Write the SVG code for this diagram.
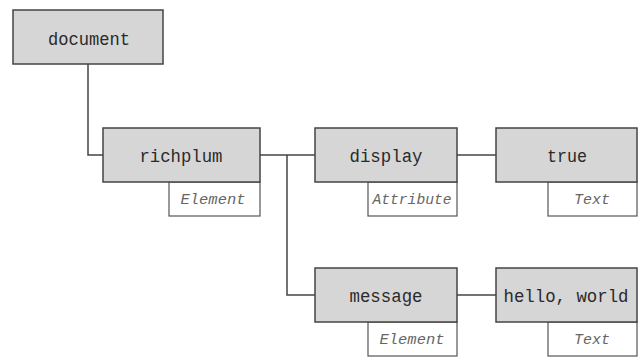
<svg xmlns="http://www.w3.org/2000/svg" width="639" height="359" viewBox="0 0 639 359">
<style>
.box{fill:#d6d6d6;stroke:#444;stroke-width:1.5}
.lab{fill:#fff;stroke:#555;stroke-width:1.2}
.t{font-family:"Liberation Mono","DejaVu Sans Mono",monospace;font-size:19px;fill:#2a2a2a;text-anchor:middle}
.l{font-family:"Liberation Mono","DejaVu Sans Mono",monospace;font-size:15px;font-style:italic;fill:#666;text-anchor:middle}
.c{fill:none;stroke:#444;stroke-width:1.5}
</style>
<rect width="639" height="359" fill="#fff"/>
<g id="connectors">
<polyline class="c" points="88,64 88,155 103,155"/>
<line class="c" x1="260" y1="155" x2="315" y2="155"/>
<polyline class="c" points="287,155 287,295 315,295"/>
<line class="c" x1="457" y1="155" x2="496" y2="155"/>
<line class="c" x1="457" y1="295" x2="496" y2="295"/>
</g>
<g id="document">
<rect class="box" x="13" y="10" width="150" height="54"/>
<text class="t" x="89" y="45" textLength="82" lengthAdjust="spacingAndGlyphs">document</text>
</g>
<g id="richplum">
<rect class="lab" x="169" y="182" width="91" height="34"/>
<rect class="box" x="103" y="128" width="157" height="54"/>
<text class="t" x="181" y="162" textLength="83" lengthAdjust="spacingAndGlyphs">richplum</text>
<text class="l" x="213" y="204" textLength="65" lengthAdjust="spacingAndGlyphs">Element</text>
</g>
<g id="display">
<rect class="lab" x="368" y="182" width="89" height="34"/>
<rect class="box" x="315" y="128" width="142" height="54"/>
<text class="t" x="386" y="162" textLength="73" lengthAdjust="spacingAndGlyphs">display</text>
<text class="l" x="412" y="204" textLength="79" lengthAdjust="spacingAndGlyphs">Attribute</text>
</g>
<g id="true">
<rect class="lab" x="548" y="182" width="89" height="34"/>
<rect class="box" x="496" y="128" width="141" height="54"/>
<text class="t" x="567" y="162" textLength="40" lengthAdjust="spacingAndGlyphs">true</text>
<text class="l" x="592" y="204" textLength="36" lengthAdjust="spacingAndGlyphs">Text</text>
</g>
<g id="message">
<rect class="lab" x="368" y="322" width="89" height="34"/>
<rect class="box" x="315" y="268" width="142" height="54"/>
<text class="t" x="386" y="302" textLength="73" lengthAdjust="spacingAndGlyphs">message</text>
<text class="l" x="412" y="344" textLength="65" lengthAdjust="spacingAndGlyphs">Element</text>
</g>
<g id="hello">
<rect class="lab" x="548" y="322" width="89" height="34"/>
<rect class="box" x="496" y="268" width="141" height="54"/>
<text class="t" x="566" y="302" textLength="125" lengthAdjust="spacingAndGlyphs">hello, world</text>
<text class="l" x="592" y="344" textLength="36" lengthAdjust="spacingAndGlyphs">Text</text>
</g>
</svg>
